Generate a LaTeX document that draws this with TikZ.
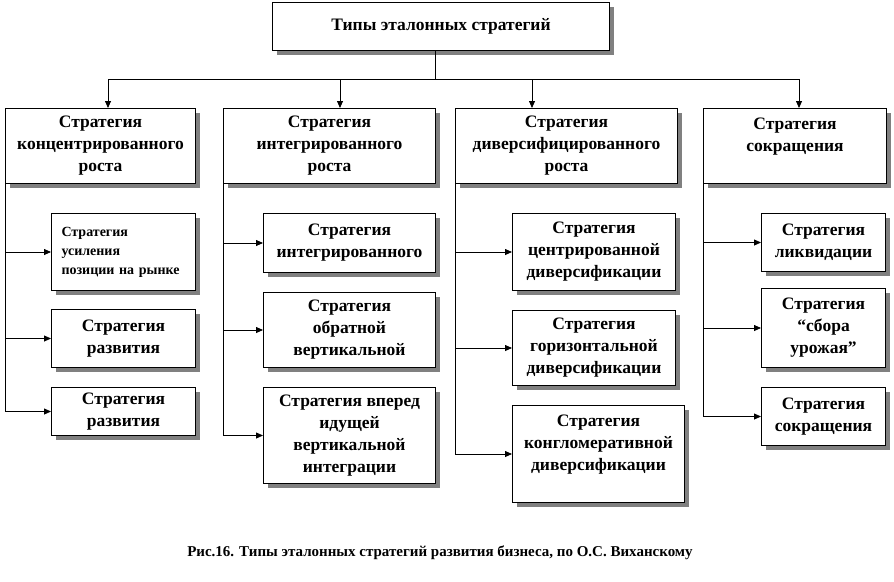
\documentclass[tikz,border=0pt]{standalone}
\usepackage{fontspec}
\setmainfont{Liberation Serif}
\usepackage{tikz}
\usetikzlibrary{arrows.meta,shadows}
\tikzset{
  box/.style={
    draw,
    line width=1pt,
    fill=white,
    anchor=north west,
    inner sep=0pt,
    align=center,
    font=\bfseries\fontsize{17.5}{22}\selectfont,
    drop shadow={shadow xshift=4pt, shadow yshift=-4pt, fill=gray, opacity=1}
  },
  link/.style={
    line width=0.8pt,
    -{Triangle[length=7pt,width=6pt]}
  },
  every picture/.style = {
    x=1pt, y=-1pt
  }
}
\begin{document}
\begin{tikzpicture}
  \useasboundingbox (0,0) rectangle (894,581);
  % top
  \node[box, minimum width=337pt, minimum height=48pt] (top) at (272,2) {Типы эталонных стратегий};
  % categories
  \node[box, minimum width=190pt, minimum height=75pt] (c1) at (5,108)
    {Стратегия\\концентрированного\\роста};
  \node[box, minimum width=212pt, minimum height=75pt] (c2) at (223,108)
    {Стратегия\\интегрированного\\роста};
  \node[box, minimum width=222pt, minimum height=75pt] (c3) at (455,108)
    {Стратегия\\диверсифицированного\\роста};
  \node[box, minimum width=183pt, minimum height=75pt] (c4) at (703,108)
    {Стратегия\\сокращения\\\mbox{}};
  % bus
  \coordinate (bus) at (435,79);
  \coordinate (a1) at (108,79);
  \coordinate (a2) at (340,79);
  \coordinate (a3) at (532,79);
  \coordinate (a4) at (799,79);
  \draw[line width=0.8pt] (top.south -| bus) -- (bus);
  \draw[line width=0.8pt] (a1) -- (a4);
  \foreach \i in {1,...,4}
    \draw[link] (a\i) -- (a\i |- c\i.north);
  % column 1
  \node[box, minimum width=144pt, minimum height=77pt, align=left, text width=124pt,
    font=\bfseries\fontsize{14}{19}\selectfont] (s11) at (51,213)
    {Стратегия\\усиления\\позиции на рынке};
  \node[box, minimum width=144pt, minimum height=58pt] (s12) at (51,309)
    {Стратегия\\развития};
  \node[box, minimum width=144pt, minimum height=48pt] (s13) at (51,387)
    {Стратегия\\развития};
  % column 2
  \node[box, minimum width=172pt, minimum height=59pt] (s21) at (263,213)
    {Стратегия\\интегрированного};
  \node[box, minimum width=172pt, minimum height=75pt] (s22) at (263,292)
    {Стратегия\\обратной\\вертикальной};
  \node[box, minimum width=172pt, minimum height=96pt] (s23) at (263,387)
    {Стратегия вперед\\идущей\\вертикальной\\интеграции};
  % column 3
  \node[box, minimum width=163pt, minimum height=77pt] (s31) at (512,213)
    {Стратегия\\центрированной\\диверсификации};
  \node[box, minimum width=163pt, minimum height=75pt] (s32) at (512,310)
    {Стратегия\\горизонтальной\\диверсификации};
  \node[box, minimum width=172pt, minimum height=97pt] (s33) at (512,405)
    {Стратегия\\конгломеративной\\диверсификации\\\mbox{}};
  % column 4
  \node[box, minimum width=124pt, minimum height=58pt] (s41) at (761,213)
    {Стратегия\\ликвидации};
  \node[box, minimum width=124pt, minimum height=79pt] (s42) at (761,288)
    {Стратегия\\“сбора\\урожая”};
  \node[box, minimum width=124pt, minimum height=58pt] (s43) at (761,387)
    {Стратегия\\сокращения};
  % side links
  \foreach \c in {1,...,4}{
    \draw[link] (c\c.south west) |- (s\c3.west);
    \draw[link] (c\c.south west |- s\c1.west) -- (s\c1.west);
    \draw[link] (c\c.south west |- s\c2.west) -- (s\c2.west);
  }
  % caption
  \node[font=\bfseries\fontsize{15}{17}\selectfont] (caption) at (440,553)
    {Рис.16. Типы эталонных стратегий развития бизнеса, по О.С. Виханскому};
\end{tikzpicture}
\end{document}
